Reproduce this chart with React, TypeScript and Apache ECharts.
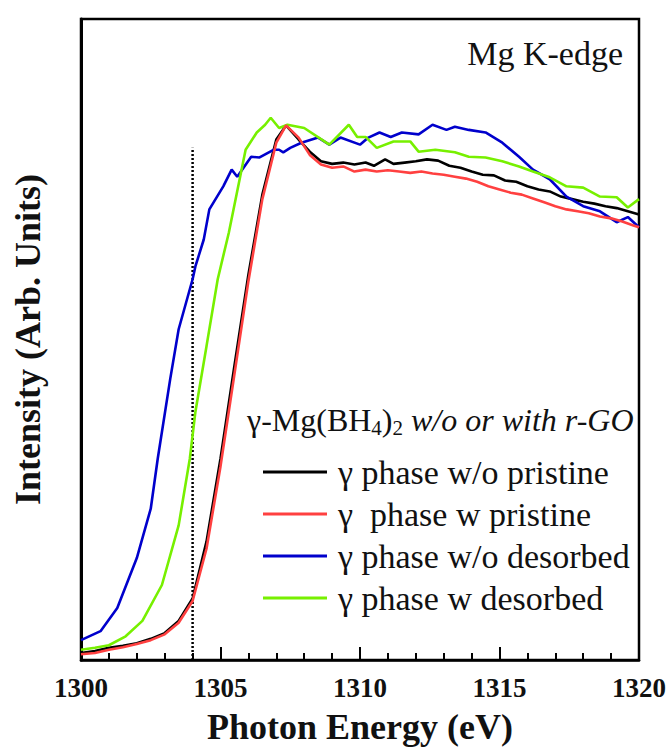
import React, { useEffect, useRef } from "react";
import * as echarts from "echarts";

const xTicks = [1300, 1305, 1310, 1315, 1320];

const seriesNames = [
  "γ phase w/o pristine",
  "γ  phase w pristine",
  "γ phase w/o desorbed",
  "γ phase w desorbed",
];
const seriesColors = ["#000000", "#ff4040", "#0000cc", "#77f000"];

const blackE = [1300, 1300.5, 1301, 1301.5, 1302, 1302.5, 1303, 1303.5, 1304, 1304.5, 1305, 1305.5, 1306, 1306.5, 1307, 1307.35, 1307.8, 1308.2, 1308.6, 1309, 1309.4, 1309.8, 1310.2, 1310.5, 1310.9, 1311.2, 1311.6, 1312, 1312.4, 1312.8, 1313.2, 1313.6, 1314, 1314.4, 1314.8, 1315.2, 1315.6, 1316, 1316.4, 1316.8, 1317.2, 1317.6, 1318, 1318.4, 1318.8, 1319.2, 1319.6, 1320];
const blackI = [1.1, 1.4, 1.9, 2.2, 2.6, 3.3, 4.2, 6.1, 9.6, 18.5, 31.4, 45.9, 60.1, 72.6, 81.2, 83.4, 81.2, 79.3, 77.8, 77.4, 77.6, 77.3, 77.6, 77.1, 78.1, 77.4, 77.6, 77.8, 78.1, 77.9, 77.1, 76.8, 76.2, 75.7, 75.6, 74.8, 74.6, 73.9, 73.4, 73.1, 72.3, 71.9, 71.5, 71.2, 70.8, 70.5, 70.0, 69.5];

const redE = [1300, 1300.5, 1301, 1301.5, 1302, 1302.5, 1303, 1303.5, 1304, 1304.5, 1305, 1305.5, 1306, 1306.5, 1307, 1307.35, 1307.8, 1308.2, 1308.6, 1309, 1309.4, 1309.8, 1310.2, 1310.6, 1311, 1311.4, 1311.8, 1312.2, 1312.6, 1313, 1313.4, 1313.8, 1314.2, 1314.6, 1315, 1315.4, 1315.8, 1316.2, 1316.6, 1317, 1317.4, 1317.8, 1318.2, 1318.6, 1319, 1319.4, 1319.8, 1320];
const redI = [0.9, 1.1, 1.6, 2.0, 2.5, 3.1, 4.0, 5.8, 9.2, 17.4, 30.2, 44.6, 59.1, 71.9, 80.7, 83.4, 81.5, 78.8, 77.3, 76.8, 77.0, 76.2, 76.5, 76.2, 76.4, 76.2, 76.0, 76.2, 75.9, 75.7, 75.4, 75.1, 74.6, 73.9, 73.4, 72.9, 72.6, 72.0, 71.4, 70.8, 70.3, 70.0, 69.7, 69.2, 68.9, 68.4, 67.8, 67.5];

const blueE = [1300, 1300.7, 1301.3, 1302, 1302.5, 1302.75, 1303.2, 1303.5, 1304, 1304.1, 1304.4, 1304.6, 1305.1, 1305.4, 1305.6, 1306.1, 1306.4, 1306.9, 1307.1, 1307.25, 1307.5, 1307.9, 1308.5, 1308.9, 1309.3, 1310, 1310.3, 1310.7, 1311.1, 1311.5, 1312.1, 1312.6, 1313.1, 1313.4, 1313.9, 1314.5, 1315.1, 1315.7, 1316.2, 1316.8, 1317.4, 1318, 1318.6, 1319.2, 1319.6, 1320];
const blueI = [3.1, 4.5, 8.1, 15.9, 23.6, 31.4, 43.9, 51.6, 59.4, 61.4, 65.6, 70.3, 73.9, 76.5, 75.4, 78.5, 78.4, 79.6, 79.6, 79.2, 79.9, 80.7, 81.5, 80.4, 81.5, 80.4, 81.5, 82.3, 81.6, 82.3, 82.0, 83.5, 82.7, 83.2, 82.7, 82.3, 80.7, 78.5, 76.5, 75.0, 72.3, 70.8, 70.0, 68.3, 69.1, 67.5];

const greenE = [1300, 1300.5, 1301, 1301.6, 1302.2, 1302.9, 1303.5, 1303.9, 1304.1, 1304.5, 1304.9, 1305.3, 1305.9, 1306.3, 1306.6, 1306.8, 1307.1, 1307.4, 1308, 1308.9, 1309.6, 1309.9, 1310.2, 1310.6, 1311.2, 1311.8, 1312.1, 1312.7, 1313.4, 1313.9, 1314.5, 1315.1, 1315.7, 1316.2, 1316.8, 1317.4, 1318, 1318.6, 1319.2, 1319.6, 1320];
const greenI = [1.6, 1.9, 2.3, 3.7, 6.1, 11.7, 21.0, 31.4, 38.7, 49.0, 59.4, 66.7, 79.6, 82.3, 83.5, 84.6, 83.0, 83.5, 83.0, 80.4, 83.5, 81.6, 81.6, 79.9, 80.9, 80.9, 79.3, 79.6, 79.2, 78.5, 78.4, 77.8, 77.0, 76.2, 75.3, 73.9, 73.7, 72.3, 72.2, 70.6, 71.9];

const edgeMarkerE = [1304, 1304];
const edgeMarkerI = [0, 79.9];

const zip = (e: number[], v: number[]) => e.map((x, i) => [x, v[i]]);

const SERIF = "Liberation Serif, Tinos, Times New Roman, Times, DejaVu Serif, serif";

export default function App() {
  const ref = useRef<HTMLDivElement>(null);
  useEffect(() => {
    if (!ref.current) return;
    const chart = echarts.init(ref.current, null, { renderer: "svg" });
    const curves = [
      zip(blackE, blackI),
      zip(redE, redI),
      zip(blueE, blueI),
      zip(greenE, greenI),
    ];
    chart.setOption({
      animation: false,
      backgroundColor: "#ffffff",
      textStyle: { fontFamily: SERIF },
      grid: {
        left: 81,
        right: 29,
        top: 19,
        bottom: 88,
        show: true,
        borderColor: "#000",
        borderWidth: 2.5,
        backgroundColor: "transparent",
      },
      legend: {
        data: seriesNames,
        orient: "vertical",
        left: 263,
        top: 454,
        padding: 0,
        itemGap: 6,
        icon: "rect",
        itemWidth: 64,
        itemHeight: 3,
        selectedMode: false,
        textStyle: {
          fontFamily: SERIF,
          fontSize: 34,
          lineHeight: 36,
          color: "#111",
          padding: [0, 0, 0, 6],
        },
      },
      xAxis: {
        type: "value",
        min: xTicks[0],
        max: xTicks[xTicks.length - 1],
        interval: 5,
        name: "Photon Energy (eV)",
        nameLocation: "middle",
        nameGap: 49,
        nameTextStyle: {
          fontFamily: SERIF,
          fontWeight: "bold",
          fontSize: 36,
          color: "#111",
        },
        axisLine: { show: true, lineStyle: { color: "#000", width: 2.5 } },
        axisTick: {
          show: true,
          inside: true,
          length: 13,
          lineStyle: { color: "#000", width: 2 },
        },
        minorTick: {
          show: true,
          splitNumber: 5,
          length: 7,
          lineStyle: { color: "#000", width: 2 },
        },
        splitLine: { show: false },
        axisLabel: {
          fontFamily: SERIF,
          fontWeight: "bold",
          fontSize: 27,
          color: "#111",
          margin: 14,
          showMinLabel: true,
          showMaxLabel: true,
          formatter: (v: number) => String(v),
        },
      },
      yAxis: {
        type: "value",
        min: 0,
        max: 100,
        name: "Intensity (Arb. Units)",
        nameLocation: "middle",
        nameGap: 35,
        nameTextStyle: {
          fontFamily: SERIF,
          fontWeight: "bold",
          fontSize: 36,
          color: "#111",
        },
        axisLine: { show: true, lineStyle: { color: "#000", width: 3 } },
        axisTick: { show: false },
        axisLabel: { show: false },
        splitLine: { show: false },
      },
      graphic: [
        {
          type: "text",
          right: 46,
          top: 36,
          style: {
            text: "Mg K-edge",
            fontFamily: SERIF,
            fontSize: 34,
            fill: "#111",
          },
        },
        {
          type: "text",
          left: 247,
          top: 404,
          style: {
            text: "{a|γ-Mg(BH}{s|4}{a|)}{s|2}{i| w/o or with r-GO}",
            rich: {
              a: { fontFamily: SERIF, fontSize: 32, lineHeight: 36, fill: "#111" },
              s: {
                fontFamily: SERIF,
                fontSize: 21,
                lineHeight: 18,
                verticalAlign: "bottom",
                fill: "#111",
              },
              i: {
                fontFamily: SERIF,
                fontSize: 32,
                fontStyle: "italic",
                lineHeight: 36,
                fill: "#111",
              },
            },
          },
        },
      ],
      series: [
        ...curves.map((d, i) => ({
          name: seriesNames[i],
          type: "line",
          data: d,
          showSymbol: false,
          symbol: "none",
          smooth: false,
          color: seriesColors[i],
          lineStyle: { color: seriesColors[i], width: 2.6 },
          z: 3 + (i === 1 ? 1 : 0),
        })),
        {
          name: "edge",
          type: "line",
          data: zip(edgeMarkerE, edgeMarkerI),
          showSymbol: false,
          symbol: "none",
          lineStyle: { color: "#000", width: 2.5, type: [2, 2] },
          z: 2,
        },
      ],
    });
    return () => chart.dispose();
  }, []);
  return (
    <div
      ref={ref}
      style={{ position: "absolute", left: 0, top: 0, width: 669, height: 750 }}
    />
  );
}
